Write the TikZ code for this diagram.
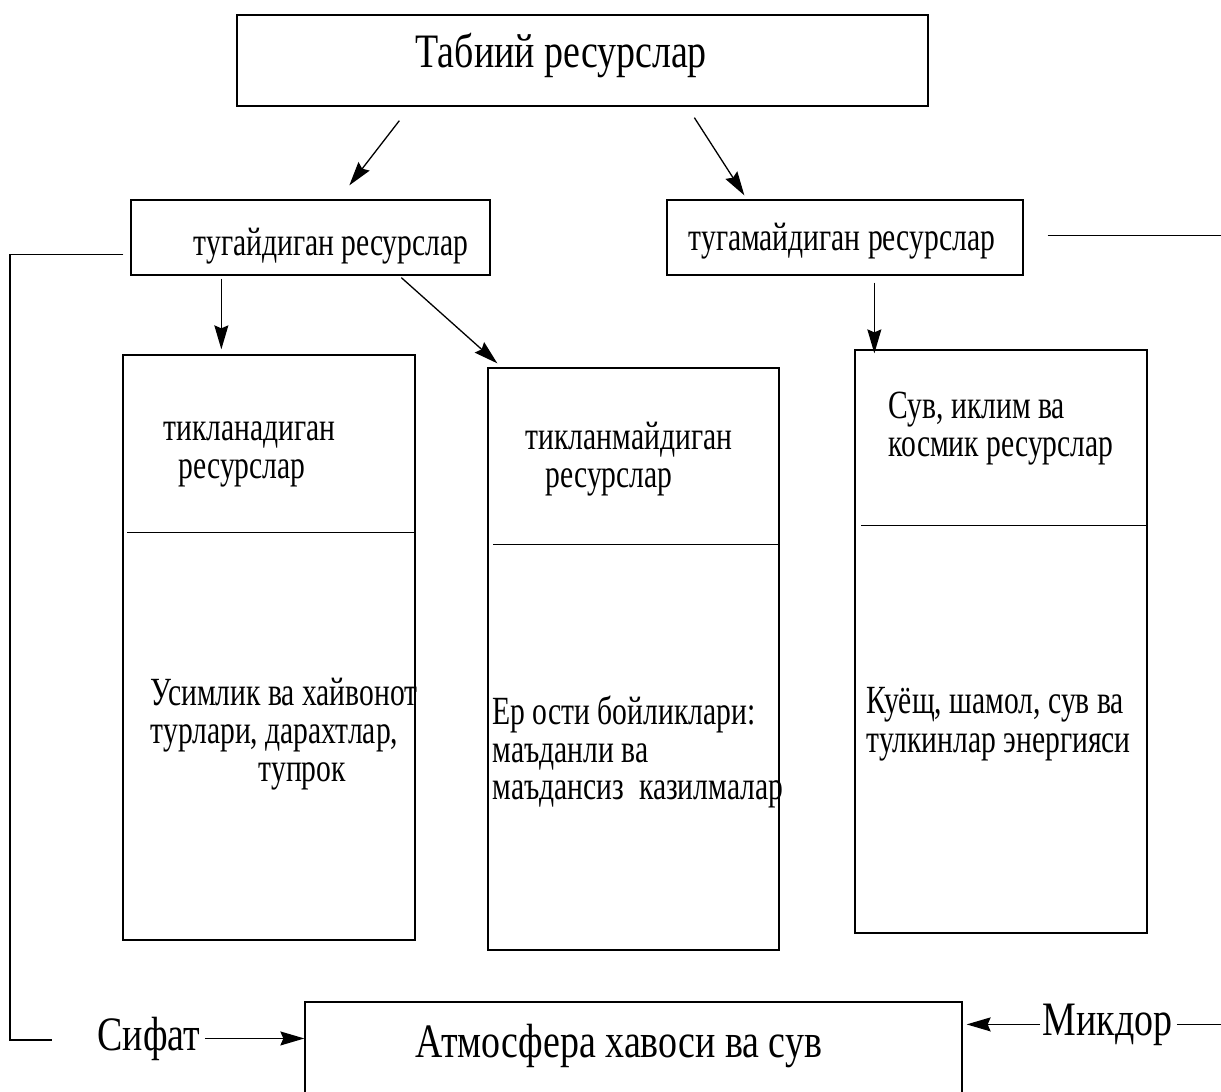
\documentclass[tikz,border=0pt]{standalone}
\usepackage{fontspec}
\setmainfont{Liberation Serif}
\newfontfamily\narrowfont[FakeStretch=0.74]{Liberation Serif}
\newfontfamily\widefont[FakeStretch=0.79]{Liberation Serif}
\usetikzlibrary{arrows.meta,fit}

\begin{document}
\begin{tikzpicture}[x=0.5pt,y=-0.5pt,line width=0.65pt,
    box/.style={draw,inner sep=0pt},
    txt/.style={anchor=base west,inner sep=0pt,font=\narrowfont\fontsize{20}{20}\selectfont},
    big/.style={anchor=base west,inner sep=0pt,font=\widefont\fontsize{24}{24}\selectfont},
    arr/.style={-{Stealth[length=12pt,width=7pt,inset=1.5pt]}}]
    \useasboundingbox (0,0) rectangle (1221,1092);

    % boxes
    \node [box, fit={(237,15) (928,106)}] (top) {};
    \node [box, fit={(131,200) (490,275)}] (tugay) {};
    \node [box, fit={(667,200) (1023,275)}] (tugam) {};
    \node [box, fit={(123,355) (415,940)}] (tikl) {};
    \node [box, fit={(488,368) (779,950)}] (tiklm) {};
    \node [box, fit={(855,350) (1147,933)}] (suv) {};
    \node [box, fit={(305,1002) (962,1097)}] (atm) {};

    % texts
    \node [big] (top-t) at (415,67) {Табиий ресурслар};
    \node [txt] (tugay-t) at (193,255) {тугайдиган ресурслар};
    \node [txt] (tugam-t) at (688,250) {тугамайдиган ресурслар};

    \node [txt] (tikl-h1) at (163,440) {тикланадиган};
    \node [txt] (tikl-h2) at (178,478) {ресурслар};
    \node [txt] (tikl-b1) at (150,705) {Усимлик ва хайвонот};
    \node [txt] (tikl-b2) at (150,743) {турлари, дарахтлар,};
    \node [txt] (tikl-b3) at (258,781) {тупрок};

    \node [txt] (tiklm-h1) at (525,449) {тикланмайдиган};
    \node [txt] (tiklm-h2) at (545,487) {ресурслар};
    \node [txt] (tiklm-b1) at (492,724) {Ер ости бойликлари:};
    \node [txt] (tiklm-b2) at (492,762) {маъданли ва};
    \node [txt] (tiklm-b3) at (492,799) {маъдансиз\ \ казилмалар};

    \node [txt] (suv-h1) at (888,418) {Сув, иклим ва};
    \node [txt] (suv-h2) at (888,456) {космик ресурслар};
    \node [txt] (suv-b1) at (866,713) {Куёщ, шамол, сув ва};
    \node [txt] (suv-b2) at (866,752) {тулкинлар энергияси};

    \node [big] (atm-t) at (415,1057) {Атмосфера хавоси ва сув};
    \node [big] (sifat) at (97,1050) {Сифат};
    \node [big] (mikdor) at (1042,1035) {Микдор};

    % dividers
    \draw ([shift={(5,178)}]tikl.north west) -- ([shift={(0,178)}]tikl.north east);
    \draw ([shift={(6,177)}]tiklm.north west) -- ([shift={(0,177)}]tiklm.north east);
    \draw ([shift={(7,176)}]suv.north west) -- ([shift={(0,176)}]suv.north east);

    % arrows
    \draw [arr] ([shift={(163,14)}]top.south west) -- ([shift={(219,-14)}]tugay.north west);
    \draw [arr] ([shift={(458,11)}]top.south west) -- ([shift={(78,-4)}]tugam.north west);
    \draw [arr] ([shift={(91,3)}]tugay.south west) -- ([shift={(99,-5)}]tikl.north west);
    \draw [arr] ([shift={(271,2)}]tugay.south west) -- ([shift={(10,-4)}]tiklm.north west);
    \draw [arr] ([shift={(208,7)}]tugam.south west) -- ([shift={(20,4)}]suv.north west);

    % side lines
    \coordinate (lq) at (52,1040);
    \coordinate (rq) at (1221,1030);
    \draw ([shift={(-7,17)}]tugay.west) -| (10,1040) -- (lq);
    \draw ([shift={(24,-2)}]tugam.east) -- ++(174,0);
    \draw [arr] ([xshift=2pt]sifat.east) -- (sifat.east -| atm.west);
    \draw [arr] ([xshift=-1pt]mikdor.west) -- ([xshift=2pt]mikdor.west -| atm.east);
    \draw ([xshift=2pt]mikdor.east) -- (mikdor.east -| rq);
\end{tikzpicture}
\end{document}
